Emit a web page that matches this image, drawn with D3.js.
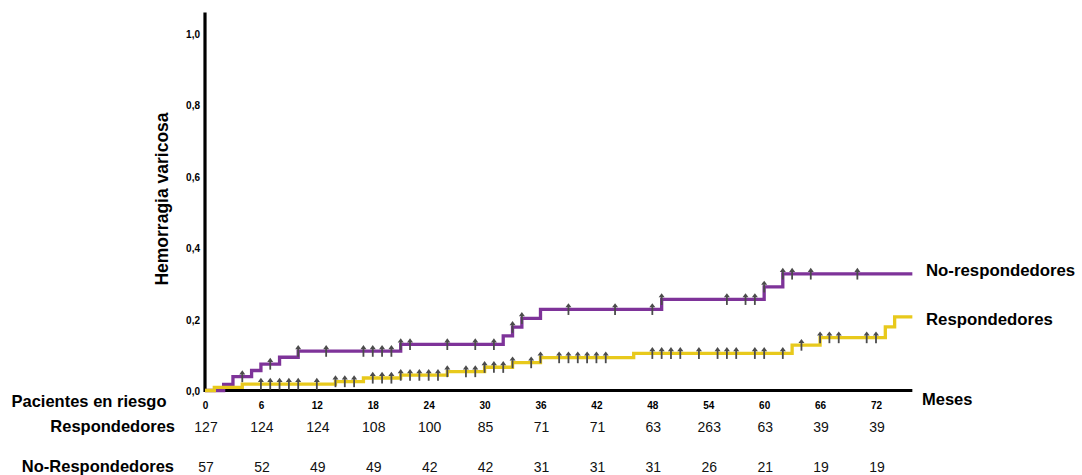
<!DOCTYPE html>
<html>
<head>
<meta charset="utf-8">
<script src="https://cdn.jsdelivr.net/npm/d3@7"></script>
<style>
  html, body { margin: 0; padding: 0; background: #fff; }
  svg { display: block; font-family: "Liberation Sans", Arial, sans-serif; }
</style>
</head>
<body>
<svg id="chart" width="1082" height="475"></svg>
<script>
// Axis ticks
const monthTicks = [0, 6, 12, 18, 24, 30, 36, 42, 48, 54, 60, 66, 72];
const riskTicks = [0, 0.2, 0.4, 0.6, 0.8, 1.0];
const followUpEnd = 75.9;

// Cumulative incidence of variceal bleeding: step times (months) and levels
const noRespTimes = [0, 2, 3, 5, 6, 8, 10, 21, 32, 33, 34, 36, 49, 60, 62];
const noRespRisk  = [0, 0.017, 0.039, 0.056, 0.074, 0.093, 0.110, 0.129, 0.153, 0.177, 0.202, 0.227, 0.255, 0.290, 0.326];
const respTimes = [0, 1, 4, 14, 17, 21, 26, 30, 33, 36, 46, 63, 66, 73, 74];
const respRisk  = [0, 0.009, 0.018, 0.025, 0.035, 0.043, 0.053, 0.065, 0.078, 0.092, 0.104, 0.127, 0.148, 0.178, 0.206];

// Censored observations (months)
const noRespCensored = [4, 7, 10, 13, 17, 18, 19, 20, 21, 22, 26, 29, 31, 33, 34, 39, 44, 48, 49, 56, 58, 59, 60, 62, 63, 65, 70];
const respCensored = [6, 7, 8, 9, 10, 12, 14, 15, 16, 18, 19, 20, 21, 22, 23, 24, 25, 26, 28, 29, 30, 31, 32, 33, 35, 36,
                      38, 39, 40, 41, 42, 43, 48, 49, 50, 51, 53, 55, 56, 57, 59, 60, 62, 64, 66, 67, 68, 71, 72];

// Patients at risk
const respAtRisk   = [127, 124, 124, 108, 100, 85, 71, 71, 63, 263, 63, 39, 39];
const noRespAtRisk = [57, 52, 49, 49, 42, 42, 31, 31, 31, 26, 21, 19, 19];

const purple = "#7e3399";
const yellow = "#e8c91c";
const markGrey = "#4b4b4b";

const svg = d3.select("#chart");
const x = d3.scaleLinear().domain([0, 72]).range([205, 876]);
const y = d3.scaleLinear().domain([0, 1]).range([390.5, 33]);

// Axes
const xAxis = d3.axisBottom(x).tickValues(monthTicks).tickSize(0).tickFormat(d3.format("d"));
const gx = svg.append("g").attr("transform", `translate(0,${y(0)})`).call(xAxis);
gx.select(".domain").remove();
gx.selectAll("text")
  .attr("y", 11.5).attr("dy", "0.71em")
  .attr("font-size", 10).attr("font-weight", "bold").attr("fill", "#000")
  .attr("font-family", "'Liberation Sans', Arial, sans-serif");

const yAxis = d3.axisLeft(y).tickValues(riskTicks).tickSize(0).tickFormat(d => d3.format(".1f")(d).replace(".", ","));
const gy = svg.append("g").attr("transform", `translate(${x(0)},0)`).call(yAxis);
gy.select(".domain").remove();
gy.selectAll("text")
  .attr("x", -5).attr("dy", "0.42em")
  .attr("font-size", 10).attr("font-weight", "bold").attr("fill", "#000")
  .attr("font-family", "'Liberation Sans', Arial, sans-serif");

// Axis lines
svg.append("line")
  .attr("x1", x(0)).attr("x2", x(0)).attr("y1", 12.5).attr("y2", y(0) + 1.5)
  .attr("stroke", "#000").attr("stroke-width", 3.2);
svg.append("line")
  .attr("x1", x(0)).attr("x2", x(followUpEnd)).attr("y1", y(0)).attr("y2", y(0))
  .attr("stroke", "#000").attr("stroke-width", 3.2);

// Step curves
function stepPoints(times, risk) {
  const pts = times.map((t, i) => [t, risk[i]]);
  pts.push([followUpEnd, risk[risk.length - 1]]);
  return pts;
}
function levelAt(times, risk, t) {
  let v = risk[0];
  for (let i = 0; i < times.length; i++) if (times[i] <= t) v = risk[i];
  return v;
}
const line = d3.line().x(d => x(d[0])).y(d => y(d[1])).curve(d3.curveStepAfter);

svg.append("path").datum(stepPoints(noRespTimes, noRespRisk))
  .attr("d", line).attr("fill", "none").attr("stroke", purple).attr("stroke-width", 3.3);
svg.append("path").datum(stepPoints(respTimes, respRisk))
  .attr("d", line).attr("fill", "none").attr("stroke", yellow).attr("stroke-width", 3.3);

// Censor marks (small upward arrows)
function drawCensors(times, stepT, stepV) {
  const g = svg.append("g");
  times.forEach(t => {
    const cx = x(t), cy = y(levelAt(stepT, stepV, t));
    g.append("line").attr("x1", cx).attr("x2", cx).attr("y1", cy + 5.6).attr("y2", cy - 2.5)
      .attr("stroke", markGrey).attr("stroke-width", 1.8);
    g.append("path").attr("d", `M${cx - 3},${cy - 2} L${cx + 3},${cy - 2} L${cx},${cy - 6.2} Z`)
      .attr("fill", markGrey);
  });
}
drawCensors(noRespCensored, noRespTimes, noRespRisk);
drawCensors(respCensored, respTimes, respRisk);

// Curve labels
svg.append("text").attr("x", 926).attr("y", 276).attr("font-size", 16.8).attr("font-weight", "bold")
  .text("No-respondedores");
svg.append("text").attr("x", 926).attr("y", 325).attr("font-size", 16.8).attr("font-weight", "bold")
  .text("Respondedores");
svg.append("text").attr("x", 922).attr("y", 405).attr("font-size", 16.5).attr("font-weight", "bold")
  .text("Meses");

// Y axis title
svg.append("text")
  .attr("transform", `translate(168,199) rotate(-90)`)
  .attr("text-anchor", "middle").attr("font-size", 17.5).attr("font-weight", "bold")
  .text("Hemorragia varicosa");

// Patients at risk table
svg.append("text").attr("x", 11.5).attr("y", 406.5).attr("font-size", 16.5).attr("font-weight", "bold")
  .text("Pacientes en riesgo");
svg.append("text").attr("x", 175).attr("y", 432).attr("text-anchor", "end").attr("font-size", 16.5).attr("font-weight", "bold")
  .text("Respondedores");
svg.append("text").attr("x", 174).attr("y", 472).attr("text-anchor", "end").attr("font-size", 16.5).attr("font-weight", "bold")
  .text("No-Respondedores");

svg.append("g").selectAll("text").data(respAtRisk).join("text")
  .attr("x", (d, i) => x(monthTicks[i]) + 1).attr("y", 432)
  .attr("text-anchor", "middle").attr("font-size", 14).attr("fill", "#111")
  .text(d => d);
svg.append("g").selectAll("text").data(noRespAtRisk).join("text")
  .attr("x", (d, i) => x(monthTicks[i]) + 1).attr("y", 472)
  .attr("text-anchor", "middle").attr("font-size", 14).attr("fill", "#111")
  .text(d => d);
</script>
</body>
</html>
